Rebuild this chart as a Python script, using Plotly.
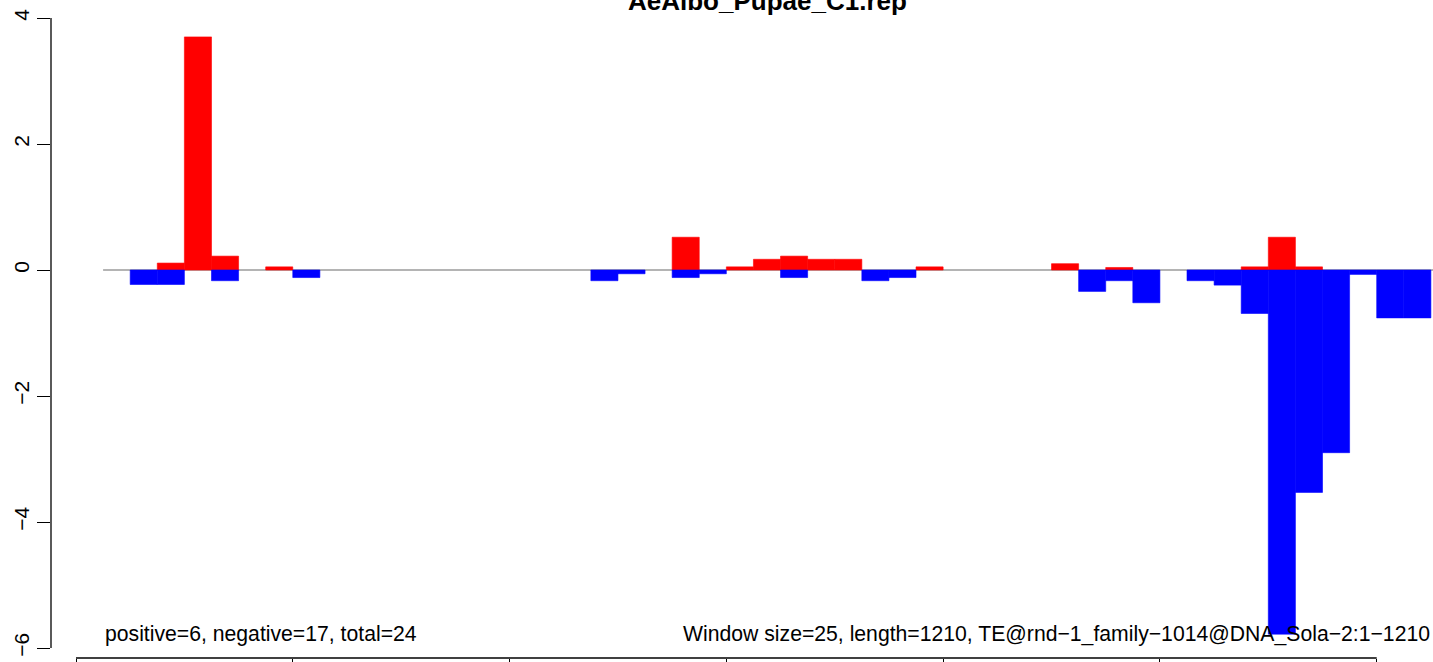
import plotly.graph_objects as go

# window starts (bp) and scores
pos_starts = [75, 100, 125, 175, 550, 600, 625, 650, 675, 700, 775, 900, 950, 1075, 1100, 1125]
pos_vals = [0.11, 3.70, 0.22, 0.05, 0.52, 0.05, 0.17, 0.22, 0.17, 0.17, 0.05, 0.10, 0.04, 0.05, 0.52, 0.05]

neg_starts = [50, 75, 125, 200, 475, 500, 550, 575, 650, 725, 750, 925, 950, 975,
              1025, 1050, 1075, 1100, 1125, 1150, 1175, 1200, 1225]
neg_vals = [-0.23, -0.23, -0.17, -0.12, -0.17, -0.06, -0.12, -0.06, -0.12, -0.17, -0.12, -0.34, -0.17, -0.52,
            -0.17, -0.24, -0.69, -5.78, -3.53, -2.90, -0.07, -0.76, -0.76]

window_size = 25
seq_length = 1210
y_ticks = [-6, -4, -2, 0, 2, 4]
x_ticks = [0, 200, 400, 600, 800, 1000, 1200]

title = "AeAlbo_Pupae_C1.rep"
left_note = "positive=6, negative=17, total=24"
right_note = "Window size=25, length=1210, TE@rnd\u22121_family\u22121014@DNA_Sola\u22122:1\u22121210"

FONT = "Liberation Sans, Arial, Helvetica, sans-serif"

fig = go.Figure()

# thin outline in the fill colour hides the seams between neighbouring windows
fig.add_trace(go.Bar(x=pos_starts, y=pos_vals, width=window_size, offset=0,
                     marker=dict(color="#ff0000", line=dict(width=0.6, color="#ff0000")), name="positive"))
fig.add_trace(go.Bar(x=neg_starts, y=neg_vals, width=window_size, offset=0,
                     marker=dict(color="#0000ff", line=dict(width=0.6, color="#0000ff")), name="negative"))

# R-style axis lines, only between the outer ticks
fig.add_shape(type="line", xref="paper", yref="y", x0=0, x1=0, y0=-6, y1=4,
              line=dict(color="black", width=1.3))
fig.add_shape(type="line", xref="x", yref="paper", x0=0, x1=1200, y0=0, y1=0,
              line=dict(color="black", width=1.3))
# zero line
fig.add_shape(type="line", xref="x", yref="y", x0=window_size, x1=1260, y0=0, y1=0,
              line=dict(color="#6a6a6a", width=1.2), layer="below")

fig.add_annotation(text=title, xref="paper", yref="paper", x=0.5188, y=1, yshift=-1,
                   xanchor="center", yanchor="middle", showarrow=False,
                   font=dict(family=FONT, size=26, color="black", weight="bold"))
fig.add_annotation(text=left_note, xref="x", yref="y", x=24.5, y=-5.78,
                   xanchor="left", yanchor="middle", showarrow=False,
                   font=dict(family=FONT, size=21.2, color="black"))
fig.add_annotation(text=right_note, xref="x", yref="y", x=1251, y=-5.78,
                   xanchor="right", yanchor="middle", showarrow=False,
                   font=dict(family=FONT, size=21.2, color="black"))

fig.update_layout(
    template="none",
    width=1433, height=662,
    margin=dict(l=51, r=0, t=0, b=4, pad=0, autoexpand=False),
    paper_bgcolor="white", plot_bgcolor="white",
    barmode="overlay", showlegend=False,
    font=dict(family=FONT, size=21, color="black"),
    xaxis=dict(range=[-23.06, 1251.94], tickvals=x_ticks, showticklabels=False,
               ticks="outside", ticklen=10, tickwidth=1.3, tickcolor="black",
               showgrid=False, zeroline=False, showline=False, automargin=False),
    yaxis=dict(range=[-6.1587, 4.2857], tickvals=y_ticks,
               ticktext=[str(v).replace("-", "\u2212") for v in y_ticks],
               tickangle=-90, ticks="outside", ticklen=13, tickwidth=1.3, tickcolor="black",
               showgrid=False, zeroline=False, showline=False, automargin=False),
)

# drop the default page margin so the figure sits at the window's corner
fig.write_html("out.html", config=dict(displayModeBar=False),
               post_script="document.body.style.margin='0';document.body.style.overflow='hidden';")
